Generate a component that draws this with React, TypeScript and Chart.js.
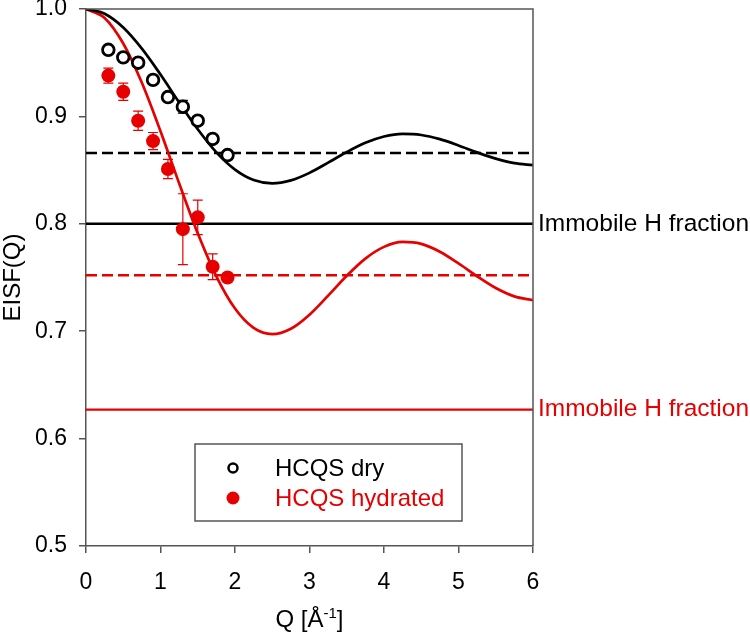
import React, { useEffect, useRef } from "react";
import { Chart, registerables } from "chart.js";

Chart.register(...registerables);

// ---- data ----
const Q_FIT = [0, 0.25, 0.5, 0.75, 1, 1.25, 1.5, 1.75, 2, 2.25, 2.5, 2.75, 3, 3.25, 3.5, 3.75, 4, 4.25, 4.5, 4.75, 5, 5.25, 5.5, 5.75, 6];
const FIT_DRY = [1.0, 0.9956, 0.9828, 0.9631, 0.939, 0.913, 0.888, 0.8665, 0.8505, 0.8408, 0.8377, 0.8404, 0.8474, 0.8569, 0.8668, 0.8754, 0.8813, 0.8837, 0.8827, 0.8788, 0.873, 0.8665, 0.8607, 0.8565, 0.8546];
const FIT_HYD = [1.0, 0.9917, 0.9679, 0.9313, 0.8862, 0.8377, 0.7911, 0.7511, 0.7211, 0.7031, 0.6973, 0.7023, 0.7154, 0.7331, 0.7516, 0.7676, 0.7785, 0.7831, 0.7813, 0.774, 0.7631, 0.7511, 0.7402, 0.7324, 0.7288];

const Q_DATA = [0.3, 0.5, 0.7, 0.9, 1.1, 1.3, 1.5, 1.7, 1.9];
const EISF_DRY = [0.962, 0.955, 0.95, 0.934, 0.918, 0.909, 0.896, 0.879, 0.864];
const ERR_DRY = [0.003, 0.003, 0.003, 0.003, 0.003, 0.006, 0.003, 0.004, 0.003];
const EISF_HYD = [0.938, 0.923, 0.896, 0.877, 0.851, 0.795, 0.806, 0.76, 0.75];
const ERR_HYD = [0.007, 0.008, 0.009, 0.008, 0.009, 0.033, 0.016, 0.012, 0.003];

const X_RANGE = [0, 6];
const IMMOBILE_DRY = 0.8;
const IMMOBILE_HYD = 0.627;
const ASYMPTOTE_DRY = 0.866;
const ASYMPTOTE_HYD = 0.752;

const LEGEND_LABELS = ["HCQS dry", "HCQS hydrated"];
const IMMOBILE_LABEL = "Immobile H fraction";

const RED = "rgb(230,0,0)";
const BLACK = "#000";
const AXIS = "#555";
const FONT = "'Liberation Sans', Arial, sans-serif";

const pts = (xs: number[], ys: number[]) => xs.map((x, i) => ({ x, y: ys[i] }));
const hline = (y: number) => X_RANGE.map((x) => ({ x, y }));

export default function App() {
  const ref = useRef<HTMLCanvasElement | null>(null);

  useEffect(() => {
    if (!ref.current) return;

    const decor = {
      id: "decor",
      beforeDatasetsDraw(chart: any) {
        const { ctx, scales } = chart;
        const xs = scales.x, ys = scales.y;
        const bars = [
          { v: EISF_DRY, e: ERR_DRY, c: BLACK },
          { v: EISF_HYD, e: ERR_HYD, c: RED },
        ];
        ctx.save();
        bars.forEach((b) => {
          ctx.strokeStyle = b.c;
          ctx.lineWidth = 1.2;
          Q_DATA.forEach((q, i) => {
            const x = xs.getPixelForValue(q);
            const y1 = ys.getPixelForValue(b.v[i] + b.e[i]);
            const y2 = ys.getPixelForValue(b.v[i] - b.e[i]);
            ctx.beginPath();
            ctx.moveTo(x, y1); ctx.lineTo(x, y2);
            ctx.moveTo(x - 5, y1); ctx.lineTo(x + 5, y1);
            ctx.moveTo(x - 5, y2); ctx.lineTo(x + 5, y2);
            ctx.stroke();
          });
        });
        ctx.restore();
      },
      afterDraw(chart: any) {
        const { ctx, chartArea: ca, scales } = chart;
        const ys = scales.y;
        ctx.save();
        // frame top & right
        ctx.strokeStyle = AXIS;
        ctx.lineWidth = 1.5;
        ctx.beginPath();
        ctx.moveTo(ca.left, ca.top);
        ctx.lineTo(ca.right, ca.top);
        ctx.lineTo(ca.right, ca.bottom);
        ctx.stroke();

        // immobile labels
        ctx.font = `24.5px ${FONT}`;
        ctx.textBaseline = "middle";
        ctx.textAlign = "left";
        ctx.fillStyle = BLACK;
        ctx.fillText(IMMOBILE_LABEL, ca.right + 5, ys.getPixelForValue(IMMOBILE_DRY));
        ctx.fillStyle = RED;
        ctx.fillText(IMMOBILE_LABEL, ca.right + 5, ys.getPixelForValue(IMMOBILE_HYD));

        // legend
        ctx.font = `24px ${FONT}`;
        ctx.fillStyle = "#fff";
        ctx.fillRect(195, 444, 267, 77);
        ctx.strokeStyle = AXIS;
        ctx.lineWidth = 1.5;
        ctx.strokeRect(195, 444, 267, 77);
        ctx.beginPath();
        ctx.arc(233, 468, 4.5, 0, Math.PI * 2);
        ctx.strokeStyle = BLACK;
        ctx.lineWidth = 2.5;
        ctx.stroke();
        ctx.beginPath();
        ctx.arc(233, 498, 6.5, 0, Math.PI * 2);
        ctx.fillStyle = RED;
        ctx.fill();
        ctx.fillStyle = BLACK;
        ctx.fillText(LEGEND_LABELS[0], 275, 469);
        ctx.fillStyle = RED;
        ctx.fillText(LEGEND_LABELS[1], 275, 499);

        // y title
        ctx.fillStyle = BLACK;
        ctx.save();
        ctx.translate(13, (ca.top + ca.bottom) / 2);
        ctx.rotate(-Math.PI / 2);
        ctx.textAlign = "center";
        ctx.fillText("EISF(Q)", 0, 0);
        ctx.restore();

        // x title with superscript
        const main = "Q [Å";
        const sup = "-1";
        const end = "]";
        ctx.font = `24px ${FONT}`;
        const w1 = ctx.measureText(main).width;
        const w3 = ctx.measureText(end).width;
        ctx.font = `15px ${FONT}`;
        const w2 = ctx.measureText(sup).width;
        const total = w1 + w2 + w3;
        let x = (ca.left + ca.right) / 2 - total / 2;
        const base = 627;
        ctx.textBaseline = "alphabetic";
        ctx.textAlign = "left";
        ctx.font = `24px ${FONT}`;
        ctx.fillText(main, x, base);
        x += w1;
        ctx.font = `15px ${FONT}`;
        ctx.fillText(sup, x, base - 9);
        x += w2;
        ctx.font = `24px ${FONT}`;
        ctx.fillText(end, x, base);
        ctx.restore();
      },
    };

    const chart = new Chart(ref.current, {
      type: "line",
      data: {
        datasets: [
          { label: "dry data", data: pts(Q_DATA, EISF_DRY), showLine: false, pointRadius: 5.8, pointBorderWidth: 2.8, pointBackgroundColor: "#fff", pointBorderColor: BLACK, borderColor: BLACK, order: 0 },
          { label: "hyd data", data: pts(Q_DATA, EISF_HYD), showLine: false, pointRadius: 7, pointBorderWidth: 0, pointBackgroundColor: RED, pointBorderColor: RED, borderColor: RED, order: 0 },
          { label: "fit dry", data: pts(Q_FIT, FIT_DRY), borderColor: BLACK, borderWidth: 2.7, pointRadius: 0, cubicInterpolationMode: "monotone", order: 1 },
          { label: "fit hyd", data: pts(Q_FIT, FIT_HYD), borderColor: RED, borderWidth: 2.7, pointRadius: 0, cubicInterpolationMode: "monotone", order: 1 },
          { label: "asym dry", data: hline(ASYMPTOTE_DRY), borderColor: BLACK, borderWidth: 2.5, borderDash: [11, 5], pointRadius: 0, order: 2 },
          { label: "asym hyd", data: hline(ASYMPTOTE_HYD), borderColor: RED, borderWidth: 2.5, borderDash: [11, 5], pointRadius: 0, order: 2 },
          { label: "imm dry", data: hline(IMMOBILE_DRY), borderColor: BLACK, borderWidth: 2.4, pointRadius: 0, order: 2 },
          { label: "imm hyd", data: hline(IMMOBILE_HYD), borderColor: RED, borderWidth: 2.4, pointRadius: 0, order: 2 },
        ],
      },
      options: {
        animation: false,
        responsive: false,
        maintainAspectRatio: false,
        layout: { padding: { left: 0, top: 9, right: 217, bottom: 0 } },
        plugins: { legend: { display: false }, tooltip: { enabled: false }, title: { display: false } },
        scales: {
          x: {
            type: "linear",
            min: 0,
            max: 6,
            afterFit: (s: any) => { s.height = 88; s.paddingLeft = 0; s.paddingRight = 0; },
            ticks: { stepSize: 1, color: BLACK, font: { size: 23, family: FONT }, padding: 16, maxRotation: 0 },
            grid: { drawOnChartArea: false, drawTicks: true, tickLength: 7, color: AXIS, lineWidth: 1.5 },
            border: { color: AXIS, width: 1.5 },
          },
          y: {
            min: 0.5,
            max: 1.0,
            afterFit: (s: any) => { s.width = 86; s.paddingTop = 0; s.paddingBottom = 0; },
            ticks: { stepSize: 0.1, color: BLACK, font: { size: 23, family: FONT }, padding: 12, callback: (v: any) => Number(v).toFixed(1) },
            grid: { drawOnChartArea: false, drawTicks: true, tickLength: 7, color: AXIS, lineWidth: 1.5 },
            border: { color: AXIS, width: 1.5 },
          },
        },
      },
      plugins: [decor],
    } as any);

    return () => chart.destroy();
  }, []);

  return (
    <div style={{ position: "absolute", left: 0, top: 0, width: 750, height: 634 }}>
      <canvas ref={ref} width={750} height={634} style={{ width: 750, height: 634 }} />
    </div>
  );
}
